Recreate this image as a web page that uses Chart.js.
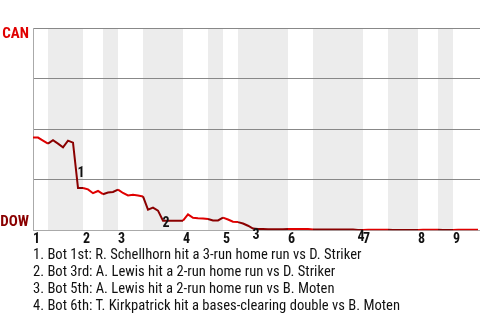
<!DOCTYPE html>
<html>
<head>
<meta charset="utf-8">
<script src="https://cdn.jsdelivr.net/npm/chart.js@4.4.1/dist/chart.umd.min.js"></script>
<style>
  html, body { margin: 0; padding: 0; background: #fff; }
  #wrap { position: absolute; left: 0; top: 0; width: 480px; height: 249px; }
  #notes { position: absolute; left: 33px; top: 246px; font-family: "Roboto Condensed", "Liberation Sans Narrow", "Arial Narrow", Roboto, sans-serif; font-size: 14.6px; line-height: 17px; color: #111; white-space: nowrap; }
</style>
</head>
<body>
<div id="wrap"><canvas id="c"></canvas></div>
<div id="notes"></div>
<script>
// Innings (x tick labels) and where each half-inning starts (event index)
const innings = ['1', '2', '3', '4', '5', '6', '7', '8', '9'];
const topStarts = [0, 10, 17, 30, 38, 51, 66, 77, 84];
const bottomStarts = [3, 14, 22, 35, 41, 56, 71, 81];
const xMax = 89.4;

// CAN win probability (%) after each event
const winProb = [
  45.9, 45.8, 44.3, 42.8, 44.5, 42.8, 41.0, 44.3, 43.3, 20.9,
  20.9, 20.2, 18.3, 19.4, 17.8, 18.6, 18.9, 20.1, 18.4, 17.2,
  17.5, 17.2, 16.7, 10.2, 11.2, 9.7, 4.7, 4.7, 4.7, 4.7,
  4.7, 7.8, 6.1, 5.9, 5.8, 5.5, 4.8, 4.8, 6.2, 5.3,
  4.2, 4.0, 3.3, 2.2, 0.8, 0.6, 0.6, 0.5, 0.5, 0.5,
  0.5, 0.6, 0.6, 0.6, 0.6, 0.6, 0.3, 0.3, 0.3, 0.3,
  0.3, 0.3, 0.3, 0.3, 0.3, 0.1, 0.1, 0.2, 0.2, 0.2,
  0.2, 0.2, 0.1, 0.1, 0.1, 0.1, 0.1, 0.1, 0.2, 0.2,
  0.2, 0.2, 0.1, 0.1, 0.1, 0.2, 0.2, 0.2, 0.2, 0.2
];

// Key scoring plays: event index that ends the play, and notes
const keyEvents = [9, 26, 44, 65];
const keyNotes = [
  '1. Bot 1st: R. Schellhorn hit a 3-run home run vs D. Striker',
  '2. Bot 3rd: A. Lewis hit a 2-run home run vs D. Striker',
  '3. Bot 5th: A. Lewis hit a 2-run home run vs B. Moten',
  '4. Bot 6th: T. Kirkpatrick hit a bases-clearing double vs B. Moten'
];
const teamTop = 'CAN';
const teamBottom = 'DOW';

const RED = '#e00000';
const DARK = '#8a0000';
const BAND = '#ececec';
const FONT = '"Roboto Condensed", "Liberation Sans Narrow", "Arial Narrow", Roboto, sans-serif';

function isBottomHalf(x) {
  for (let i = 0; i < bottomStarts.length; i++) {
    if (x >= bottomStarts[i] && x < topStarts[i + 1]) return true;
  }
  return false;
}

const points = winProb.map((v, i) => ({ x: i, y: v }));

const bandsPlugin = {
  id: 'bands',
  beforeDraw(chart) {
    const { ctx, chartArea: a, scales: { x } } = chart;
    ctx.save();
    ctx.fillStyle = BAND;
    for (let i = 0; i < bottomStarts.length; i++) {
      const x0 = x.getPixelForValue(bottomStarts[i]);
      const x1 = x.getPixelForValue(topStarts[i + 1]);
      ctx.fillRect(x0, a.top, x1 - x0, a.bottom - a.top);
    }
    ctx.restore();
  },
  afterDraw(chart) {
    const { ctx, chartArea: a, scales: { x, y } } = chart;
    ctx.save();
    ctx.font = 'bold 15px ' + FONT;
    ctx.textAlign = 'right';
    ctx.textBaseline = 'middle';
    ctx.fillStyle = RED;
    ctx.fillText(teamTop, a.left - 4, y.getPixelForValue(100) + 6);
    ctx.fillStyle = DARK;
    ctx.fillText(teamBottom, a.left - 4, y.getPixelForValue(0) - 8);
    // key event labels at the middle of the scoring segment
    ctx.font = 'bold 14px ' + FONT;
    ctx.fillStyle = '#111';
    ctx.textAlign = 'left';
    ctx.textBaseline = 'top';
    keyEvents.forEach((ev, k) => {
      const mx = (x.getPixelForValue(ev - 1) + x.getPixelForValue(ev)) / 2;
      const my = (y.getPixelForValue(winProb[ev - 1]) + y.getPixelForValue(winProb[ev])) / 2;
      ctx.fillText(String(k + 1), mx + 2, my + 1);
    });
    ctx.restore();
  }
};

new Chart(document.getElementById('c'), {
  type: 'line',
  data: {
    datasets: [{
      data: points,
      borderColor: RED,
      borderWidth: 2,
      pointRadius: 0,
      tension: 0,
      segment: {
        borderColor: ctx => isBottomHalf(ctx.p0.parsed.x) ? DARK : RED
      }
    }]
  },
  options: {
    responsive: true,
    maintainAspectRatio: false,
    animation: false,
    layout: { padding: { left: 33, top: 28, right: 0, bottom: 0 } },
    plugins: { legend: { display: false }, tooltip: { enabled: false } },
    scales: {
      x: {
        type: 'linear',
        min: 0,
        max: xMax,
        afterBuildTicks: s => { s.ticks = topStarts.map(v => ({ value: v })); },
        ticks: {
          autoSkip: false,
          maxRotation: 0,
          align: 'start',
          padding: 1,
          color: '#111',
          font: { family: FONT, size: 14, weight: 'bold' },
          callback: (v, i) => innings[i]
        },
        grid: { display: false, drawTicks: false },
        border: { display: true, color: '#aaaaaa', width: 1 }
      },
      y: {
        min: 0,
        max: 100,
        ticks: { display: false, stepSize: 25 },
        grid: {
          drawTicks: false,
          color: c => (c.tick && c.tick.value === 0) ? '#aaaaaa' : '#888888',
          lineWidth: 1
        },
        border: { display: true, color: '#aaaaaa', width: 1 }
      }
    }
  },
  plugins: [bandsPlugin]
});

document.getElementById('notes').innerHTML = keyNotes.map(n => '<div>' + n + '</div>').join('');
</script>
</body>
</html>
